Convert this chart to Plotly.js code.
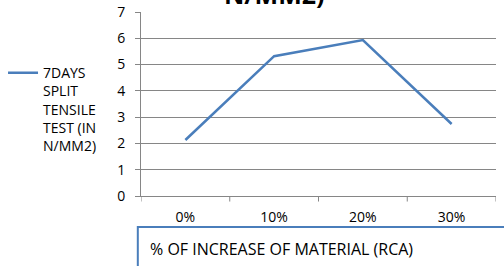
<!DOCTYPE html>
<html><head><meta charset="utf-8">
<script src="https://cdn.plot.ly/plotly-3.0.1.min.js"></script>
<style>html,body{margin:0;padding:0;background:#fff}#c{width:504px;height:266px}</style>
</head><body><div id="c"></div>
<script>
const categories = ['0%', '10%', '20%', '30%'];
const values = [2.13, 5.32, 5.93, 2.74];
const seriesName = '7DAYS<br>SPLIT<br>TENSILE<br>TEST (IN<br>N/MM2)';
const xTitle = '% OF INCREASE OF MATERIAL (RCA)';
const chartTitle = '7DAYS SPLIT TENSILE TEST (IN<br>N/MM2)';
const yTicks = [0, 1, 2, 3, 4, 5, 6, 7];

const F = 'Open Sans, Liberation Sans, sans-serif';
const trace = {
  x: categories, y: values, type: 'scatter', mode: 'lines', name: seriesName,
  line: {color: '#4a7ebb', width: 2.5}
};
const layout = {
  width: 504, height: 266,
  margin: {l: 141, r: 8, t: 12, b: 70},
  paper_bgcolor: '#fff', plot_bgcolor: '#fff',
  font: {family: F, size: 13, color: '#000'},
  showlegend: true,
  legend: {xref: 'container', yref: 'container', x: 0.006, y: 0.785, xanchor: 'left', yanchor: 'top',
    valign: 'top', font: {family: F, size: 14}, itemwidth: 30, bgcolor: 'rgba(0,0,0,0)'},
  xaxis: {type: 'category', range: [-0.5, 3.5], showgrid: false, showline: true, linecolor: '#868686',
    linewidth: 1, ticks: '', tickfont: {family: F, size: 14}, ticklabelstandoff: 8, fixedrange: true, zeroline: false},
  yaxis: {range: [0, 7], tickvals: yTicks, showgrid: true, gridcolor: '#868686', gridwidth: 1,
    showline: true, linecolor: '#868686', ticks: 'outside', ticklen: 5, tickcolor: '#868686',
    ticklabelstandoff: 7, tickfont: {family: F, size: 14}, zeroline: false, fixedrange: true},
  shapes: [
    {type: 'rect', xref: 'paper', yref: 'paper', x0: -0.009, x1: 1.05, y0: -0.52, y1: -0.168,
     line: {color: '#4a7ebb', width: 2}, fillcolor: 'rgba(0,0,0,0)'}
  ].concat([0, 1, 2, 3, 4].map(i => ({type: 'line', xref: 'x', yref: 'paper', x0: i - 0.5, x1: i - 0.5,
     y0: 0, y1: -0.03, line: {color: '#868686', width: 1}}))),
  annotations: [
    {text: xTitle, xref: 'paper', yref: 'paper', x: 0.02, y: -0.288, xanchor: 'left', yanchor: 'middle',
     showarrow: false, font: {family: F, size: 16}},
    {text: chartTitle, xref: 'paper', yref: 'paper', x: 0.375, y: 0.992, xanchor: 'center', yanchor: 'bottom',
     showarrow: false, font: {family: F, size: 25, color: '#000', weight: 'bold'}}
  ]
};
Plotly.newPlot('c', [trace], layout, {displayModeBar: false, staticPlot: true});
</script></body></html>
